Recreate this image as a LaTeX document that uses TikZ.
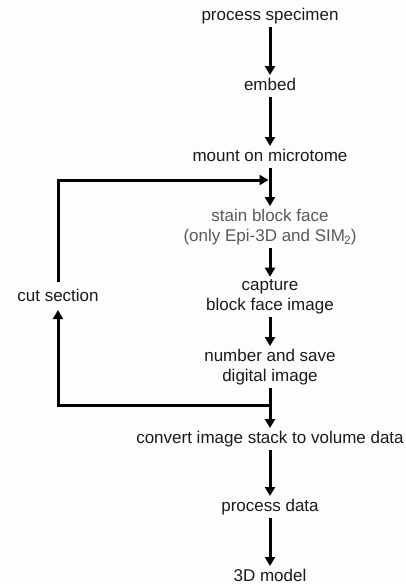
\documentclass[tikz,border=0pt]{standalone}
\usepackage{fontspec}
\setmainfont{Liberation Sans}
\usetikzlibrary{arrows.meta}
\definecolor{txt}{HTML}{1A1A1A}
\definecolor{graytxt}{HTML}{5A5A5A}
\definecolor{bg}{HTML}{FDFDFD}
\begin{document}
\begin{tikzpicture}[x=1pt,y=-1pt,
  lbl/.style={inner sep=0pt, outer sep=0pt, text=txt, font=\fontsize{17}{20}\selectfont, text height=12pt, text depth=4pt},
  lbl2/.style={inner sep=0pt, outer sep=0pt, text=txt, font=\fontsize{17}{20}\selectfont, align=center},
  flow/.style={line width=3pt, -{Triangle[length=9pt,width=10pt]}, shorten >=3pt, shorten <=3pt},
  loopline/.style={line width=3pt, line cap=rect}
]
\fill[bg] (0,0) rectangle (406,584);
\useasboundingbox (0,0) rectangle (406,584);

\node[lbl] (p1) at (270,16) {process specimen};
\node[lbl] (e) at (270,86) {embed};
\node[lbl] (m) at (270,157) {mount on microtome};
\node[lbl2, text=graytxt] (s) at (270,227) {stain block face\\(only Epi-3D and SIM\kern-1pt\raisebox{-3.5pt}{\fontsize{12}{12}\selectfont 2})};
\node[lbl2] (c) at (270,297) {capture\\block face image};
\node[lbl2] (n) at (270,367) {number and save\\digital image};
\node[lbl] (v) at (270,439) {convert image stack to volume data};
\node[lbl] (d) at (270,507) {process data};
\node[lbl] (M) at (270,577) {3D model};
\node[lbl] (cs) at (58,297) {cut section};

\coordinate (j1) at (270,180);
\coordinate (j2) at (270,405);

\draw[flow] (p1.south) -- (e.north);
\draw[flow] (e.south) -- (m.north);
\draw[flow] (m.south) -- (s.north);
\draw[flow] (s.south) -- (c.north);
\draw[flow] (c.south) -- (n.north);
\draw[flow] (n.south) -- (v.north);
\draw[flow] (v.south) -- (d.north);
\draw[flow] (d.south) -- (M.north);

\draw[line width=3pt, -{Triangle[length=9pt,width=10pt]}, shorten <=7pt, shorten >=1.5pt] (cs.north) |- (j1);
\draw[line width=3pt, -{Triangle[length=9pt,width=10pt]}, shorten >=5pt] (j2) -| (cs.south);
\end{tikzpicture}
\end{document}
